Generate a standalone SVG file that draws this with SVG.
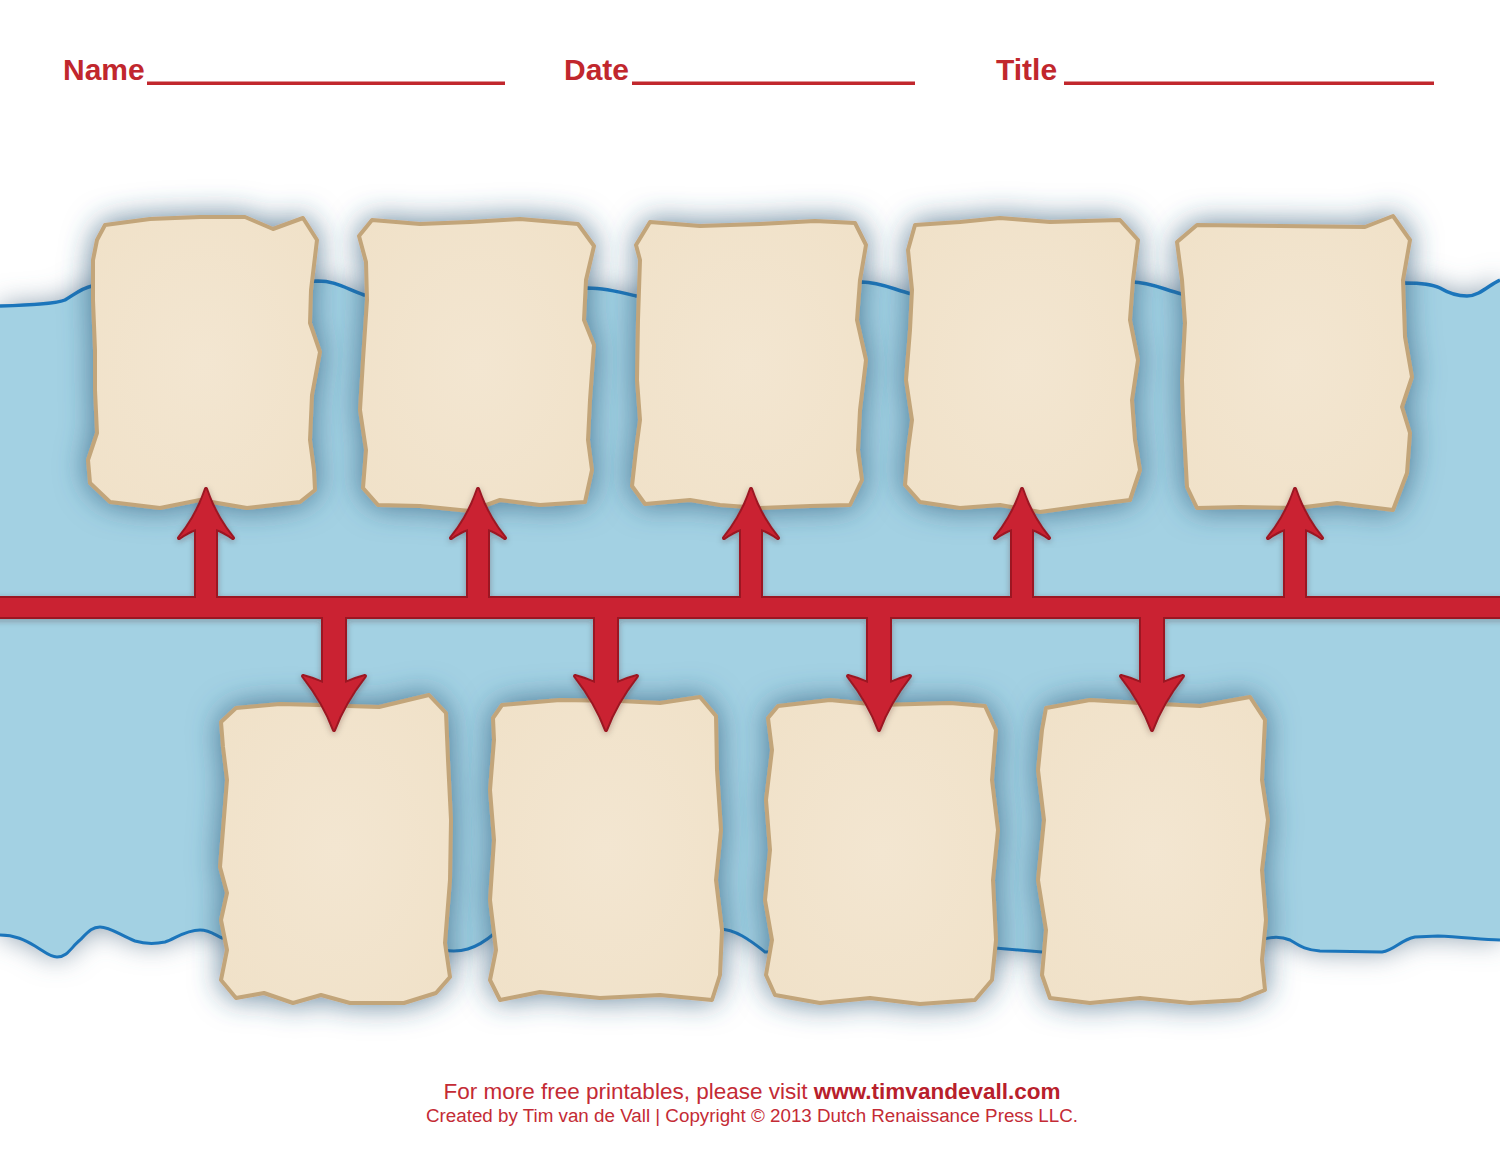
<svg xmlns="http://www.w3.org/2000/svg" xmlns:xlink="http://www.w3.org/1999/xlink" width="1500" height="1159" viewBox="0 0 1500 1159">
<style>
.hdr{font-family:"Liberation Sans",Arial,sans-serif;font-weight:bold;font-size:30px;fill:#c1272d}
.uline{fill:#c1272d}
.paper{fill:url(#pg);stroke:#c2a57a;stroke-width:4;stroke-linejoin:round}
.foot{font-family:"Liberation Sans",Arial,sans-serif;fill:#c42b35;text-anchor:middle}
</style>
<defs>
<radialGradient id="pg" cx="50%" cy="50%" r="70%">
<stop offset="0" stop-color="#f3e6d1"/>
<stop offset="1" stop-color="#f0e1c8"/>
</radialGradient>
<filter id="psh" x="-30%" y="-30%" width="160%" height="160%">
<feDropShadow dx="0" dy="0" stdDeviation="15" flood-color="#2f5a78" flood-opacity="0.75"/>
</filter>
<filter id="bsh" x="-5%" y="-25%" width="110%" height="150%">
<feDropShadow dx="0" dy="0" stdDeviation="14" flood-color="#5f7a90" flood-opacity="0.75"/>
</filter>
<filter id="ash" x="-10%" y="-10%" width="120%" height="120%">
<feDropShadow dx="0" dy="2" stdDeviation="3" flood-color="#3a2020" flood-opacity="0.3"/>
</filter>
<g id="tl">
<rect x="-10" y="598" width="1520" height="19"/>
<path d="M196,601 L196,529 Q189,531 179,538 Q197,516 206,489 Q215,516 233,538 Q223,531 216,529 L216,601 Z"/>
<path d="M468,601 L468,529 Q461,531 451,538 Q469,516 478,489 Q487,516 505,538 Q495,531 488,529 L488,601 Z"/>
<path d="M741,601 L741,529 Q734,531 724,538 Q742,516 751,489 Q760,516 778,538 Q768,531 761,529 L761,601 Z"/>
<path d="M1012,601 L1012,529 Q1005,531 995,538 Q1013,516 1022,489 Q1031,516 1049,538 Q1039,531 1032,529 L1032,601 Z"/>
<path d="M1285,601 L1285,529 Q1278,531 1268,538 Q1286,516 1295,489 Q1304,516 1322,538 Q1312,531 1305,529 L1305,601 Z"/>
<path d="M323,614 L323,683 Q314,679 303,676 Q324,703 334,730 Q344,703 365,676 Q354,679 345,683 L345,614 Z"/>
<path d="M595,614 L595,683 Q586,679 575,676 Q596,703 606,730 Q616,703 637,676 Q626,679 617,683 L617,614 Z"/>
<path d="M868,614 L868,683 Q859,679 848,676 Q869,703 879,730 Q889,703 910,676 Q899,679 890,683 L890,614 Z"/>
<path d="M1141,614 L1141,683 Q1132,679 1121,676 Q1142,703 1152,730 Q1162,703 1183,676 Q1172,679 1163,683 L1163,614 Z"/>
</g>
</defs>
<rect width="1500" height="1159" fill="#ffffff"/>

<g id="header">
<text class="hdr" x="63" y="80">Name</text>
<rect class="uline" x="147" y="81.5" width="358" height="3.5"/>
<text class="hdr" x="564" y="80">Date</text>
<rect class="uline" x="632" y="81.5" width="283" height="3.5"/>
<text class="hdr" x="996" y="80">Title</text>
<rect class="uline" x="1064" y="81.5" width="370" height="3.5"/>
</g>

<g id="band">
<path filter="url(#bsh)" fill="#a3d1e3" d="M0,306 C30,305 55,304 65,300 C75,294 82,288 92,286 L318,281 C335,281 345,288 364,295 L588,288 C605,288 620,292 636,296 L862,282 C880,282 895,290 912,294 L1132,282 C1150,282 1165,290 1182,294 L1405,283 C1420,283 1432,284 1440,288 C1450,294 1458,296 1467,296 C1480,296 1490,284 1500,280 L1500,940 C1480,939 1460,937 1438,936 L1415,937 C1400,940 1395,950 1382,952 L1320,951 C1305,950 1300,946 1290,940 C1280,936 1270,937 1261,940 L1042,952 L995,948 L765,952 C750,940 735,929 719,929 L495,933 C475,950 460,953 443,950 L222,938 C215,935 210,930 200,930 C185,930 175,939 165,942 C155,944 145,944 135,941 C120,935 110,927 100,927 C92,927 88,932 80,940 C72,946 68,957 57,957 C50,957 45,952 35,946 C25,940 15,935 0,935 Z"/>
<path fill="none" stroke="#1b75bb" stroke-width="3.5" d="M0,306 C30,305 55,304 65,300 C75,294 82,288 92,286 L318,281 C335,281 345,288 364,295 L588,288 C605,288 620,292 636,296 L862,282 C880,282 895,290 912,294 L1132,282 C1150,282 1165,290 1182,294 L1405,283 C1420,283 1432,284 1440,288 C1450,294 1458,296 1467,296 C1480,296 1490,284 1500,280"/>
<path fill="none" stroke="#1b75bb" stroke-width="3" d="M0,935 C15,935 25,940 35,946 C45,952 50,957 57,957 C68,957 72,946 80,940 C88,932 92,927 100,927 C110,927 120,935 135,941 C145,944 155,944 165,942 C175,939 185,930 200,930 C210,930 215,935 222,938 L443,950 C460,953 475,950 495,933 L719,929 C735,929 750,940 765,952 L995,948 L1042,952 L1261,940 C1270,937 1280,936 1290,940 C1300,946 1305,950 1320,951 L1382,952 C1395,950 1400,940 1415,937 L1438,936 C1460,937 1480,939 1500,940"/>
</g>

<g id="event-top-1" filter="url(#psh)"><path class="paper" d="M105,225 L150,219 L200,217 L245,217 L273,229 L303,218 L317,240 L311,290 L310,323 L320,352 L312,395 L310,440 L314,470 L315,490 L300,502 L247,508 L200,500 L160,508 L110,502 L90,483 L88,460 L97,433 L95,390 L95,350 L93,300 L93,260 L97,240 Z"/></g>
<g id="event-top-2" filter="url(#psh)"><path class="paper" d="M372,220 L420,224 L470,222 L520,219 L578,224 L594,246 L586,280 L584,320 L594,345 L590,400 L588,440 L592,470 L585,502 L540,505 L500,500 L470,511 L420,506 L378,505 L363,488 L366,450 L360,410 L363,360 L367,300 L366,262 L359,236 Z"/></g>
<g id="event-top-3" filter="url(#psh)"><path class="paper" d="M650,222 L700,226 L760,224 L815,221 L855,223 L866,245 L860,280 L857,320 L866,360 L860,410 L858,450 L862,480 L850,505 L810,506 L760,508 L720,505 L690,500 L645,504 L632,486 L636,450 L640,420 L637,380 L638,320 L640,260 L636,245 Z"/></g>
<g id="event-top-4" filter="url(#psh)"><path class="paper" d="M915,225 L960,222 L1000,218 L1050,222 L1120,220 L1138,240 L1133,280 L1130,320 L1138,360 L1132,400 L1135,440 L1140,470 L1130,500 L1090,505 L1040,512 L1000,505 L960,508 L920,502 L905,485 L908,450 L912,420 L906,380 L910,330 L912,290 L908,250 Z"/></g>
<g id="event-top-5" filter="url(#psh)"><path class="paper" d="M1177,242 L1197,225 L1280,226 L1365,227 L1393,216 L1410,240 L1403,280 L1405,337 L1412,377 L1402,407 L1410,433 L1407,473 L1393,510 L1337,503 L1297,508 L1240,507 L1197,508 L1187,487 L1183,413 L1182,380 L1185,323 L1182,280 Z"/></g>

<g id="event-bottom-1" filter="url(#psh)"><path class="paper" d="M221,722 L236,708 L280,704 L318,705 L379,707 L429,695 L446,713 L448,760 L451,820 L450,880 L445,943 L450,977 L436,993 L404,1003 L350,1003 L321,995 L293,1003 L264,993 L236,998 L221,980 L227,950 L221,920 L227,893 L220,867 L227,780 L223,747 Z"/></g>
<g id="event-bottom-2" filter="url(#psh)"><path class="paper" d="M502,705 L560,700 L620,701 L660,703 L700,697 L716,716 L717,770 L721,830 L716,880 L722,930 L720,975 L712,1000 L660,995 L600,998 L540,992 L500,1000 L490,980 L496,950 L490,900 L494,840 L490,790 L494,740 L493,718 Z"/></g>
<g id="event-bottom-3" filter="url(#psh)"><path class="paper" d="M778,706 L830,700 L880,705 L950,703 L985,706 L996,730 L992,780 L998,830 L993,880 L996,940 L992,980 L975,1000 L920,1004 L870,998 L820,1003 L775,995 L766,975 L772,940 L765,900 L770,850 L766,800 L772,750 L768,718 Z"/></g>
<g id="event-bottom-4" filter="url(#psh)"><path class="paper" d="M1046,708 L1090,700 L1140,703 L1200,706 L1250,697 L1265,720 L1262,780 L1268,820 L1262,870 L1266,920 L1262,960 L1265,990 L1240,1000 L1190,1003 L1140,998 L1090,1003 L1050,998 L1042,975 L1046,930 L1038,880 L1044,820 L1038,770 L1042,730 Z"/></g>

<g id="connectors" filter="url(#ash)">
<use xlink:href="#tl" href="#tl" fill="none" stroke="#9c1824" stroke-width="4" stroke-linejoin="round"/>
<use xlink:href="#tl" href="#tl" fill="#ca2431" stroke="none"/>
</g>

<g id="footer">
<text class="foot" x="752" y="1099" font-size="22.5">For more free printables, please visit <tspan font-weight="bold" fill="#b8202b">www.timvandevall.com</tspan></text>
<text class="foot" x="752" y="1122" font-size="18.8">Created by Tim van de Vall | Copyright © 2013 Dutch Renaissance Press LLC.</text>
</g>
</svg>
